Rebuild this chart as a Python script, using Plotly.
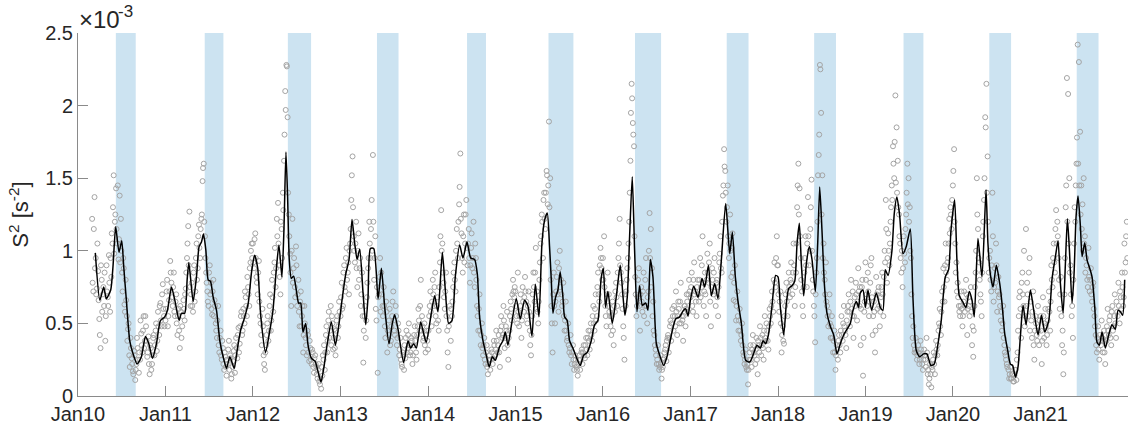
import numpy as np
import pandas as pd
import plotly.graph_objects as go

# ---------------- data (values in units of 1e-3 s^-2) ----------------
# smoothed curve: decimal-year positions and values
line_t = [
    2010.198, 2010.25, 2010.294, 2010.324, 2010.374, 2010.40, 2010.431, 2010.469, 2010.50, 2010.523,
    2010.553, 2010.592, 2010.63, 2010.676, 2010.725, 2010.771, 2010.81, 2010.851, 2010.897, 2010.943, 2010.992,
    2011.023, 2011.069, 2011.107, 2011.157, 2011.183, 2011.22, 2011.248, 2011.267, 2011.286, 2011.317,
    2011.355, 2011.385, 2011.412, 2011.435, 2011.462, 2011.489, 2011.515, 2011.546, 2011.584, 2011.622,
    2011.66, 2011.698, 2011.737, 2011.786, 2011.82, 2011.859, 2011.90, 2011.947, 2011.985,
    2012.02, 2012.055, 2012.09, 2012.145, 2012.19, 2012.229, 2012.267, 2012.297, 2012.331, 2012.354,
    2012.377, 2012.396, 2012.415, 2012.438, 2012.465, 2012.495, 2012.522, 2012.545, 2012.571, 2012.602,
    2012.629, 2012.667, 2012.709, 2012.739, 2012.777, 2012.808, 2012.846, 2012.895, 2012.941, 2012.983,
    2013.021, 2013.059, 2013.097, 2013.131, 2013.162, 2013.189, 2013.219, 2013.257, 2013.288, 2013.314,
    2013.341, 2013.379, 2013.429, 2013.467, 2013.505, 2013.554, 2013.592, 2013.619, 2013.657, 2013.722,
    2013.771, 2013.802, 2013.836, 2013.867, 2013.916, 2013.95, 2013.98,
    2014.038, 2014.076, 2014.114, 2014.164, 2014.198, 2014.236, 2014.274, 2014.312, 2014.362, 2014.40,
    2014.446, 2014.488, 2014.533, 2014.564, 2014.59, 2014.629, 2014.667, 2014.70, 2014.735, 2014.77,
    2014.819, 2014.857, 2014.884, 2014.914, 2014.952,
    2015.01, 2015.055, 2015.105, 2015.143, 2015.189, 2015.227, 2015.269, 2015.303, 2015.333, 2015.364,
    2015.39, 2015.41, 2015.429, 2015.459, 2015.486, 2015.512, 2015.543, 2015.562, 2015.592, 2015.619,
    2015.657, 2015.695, 2015.741, 2015.779, 2015.821, 2015.867, 2015.905, 2015.943, 2015.98,
    2016.005, 2016.03, 2016.057, 2016.107, 2016.152, 2016.198, 2016.229, 2016.251, 2016.278, 2016.305,
    2016.335, 2016.362, 2016.389, 2016.419, 2016.45, 2016.488, 2016.514, 2016.541, 2016.571, 2016.61,
    2016.648, 2016.693, 2016.731, 2016.781, 2016.83, 2016.876, 2016.914, 2016.945, 2016.971, 2016.998,
    2017.036, 2017.086, 2017.131, 2017.162, 2017.204, 2017.238, 2017.276, 2017.314, 2017.352, 2017.402,
    2017.448, 2017.478, 2017.512, 2017.543, 2017.581, 2017.63, 2017.676, 2017.714, 2017.76, 2017.798,
    2017.829, 2017.859, 2017.89, 2017.928, 2017.973,
    2018.0, 2018.027, 2018.065, 2018.096, 2018.122, 2018.16, 2018.191, 2018.218, 2018.244, 2018.267,
    2018.294, 2018.324, 2018.359, 2018.389, 2018.427, 2018.454, 2018.477, 2018.503, 2018.53, 2018.56,
    2018.598, 2018.637, 2018.675, 2018.713, 2018.751, 2018.789, 2018.827, 2018.858, 2018.896, 2018.922,
    2018.941, 2018.972,
    2019.0, 2019.029, 2019.071, 2019.124, 2019.17, 2019.2, 2019.227, 2019.258, 2019.303, 2019.33,
    2019.36, 2019.391, 2019.429, 2019.467, 2019.513, 2019.543, 2019.581, 2019.619, 2019.665, 2019.703,
    2019.749, 2019.787, 2019.825, 2019.867, 2019.913, 2019.951, 2019.978,
    2020.02, 2020.046, 2020.073, 2020.111, 2020.149, 2020.187, 2020.218, 2020.244, 2020.286, 2020.332,
    2020.378, 2020.40, 2020.427, 2020.458, 2020.496, 2020.534, 2020.56, 2020.591, 2020.625, 2020.656,
    2020.682, 2020.713, 2020.743, 2020.77, 2020.80, 2020.835, 2020.884, 2020.922, 2020.972,
    2021.01, 2021.048, 2021.094, 2021.132, 2021.17, 2021.20, 2021.227, 2021.258, 2021.284, 2021.307,
    2021.33, 2021.36, 2021.383, 2021.406, 2021.429, 2021.456, 2021.475, 2021.505, 2021.532, 2021.562,
    2021.589, 2021.62, 2021.646, 2021.673, 2021.703, 2021.741, 2021.779, 2021.817, 2021.855, 2021.886,
    2021.913, 2021.939, 2021.962,
]
line_v = [
    0.986, 0.66, 0.75, 0.67, 0.73, 0.89, 1.165, 0.99, 1.07, 0.89,
    0.66, 0.38, 0.29, 0.22, 0.27, 0.41, 0.36, 0.26, 0.36, 0.52, 0.545,
    0.59, 0.75, 0.66, 0.52, 0.57, 0.57, 0.80, 0.92, 0.82, 0.65,
    0.82, 1.03, 1.06, 1.115, 1.005, 0.80, 0.79, 0.68, 0.59, 0.38,
    0.27, 0.19, 0.27, 0.19, 0.315, 0.45, 0.53, 0.64, 0.855,
    0.97, 0.88, 0.55, 0.30, 0.44, 0.59, 0.87, 1.04, 0.82, 1.14,
    1.68, 1.37, 0.94, 0.81, 0.825, 0.73, 0.64, 0.64, 0.44, 0.50,
    0.35, 0.26, 0.24, 0.177, 0.097, 0.19, 0.35, 0.51, 0.35, 0.50,
    0.68, 0.84, 0.94, 1.216, 1.05, 0.94, 1.01, 0.71, 0.49, 0.68,
    1.016, 1.016, 0.67, 0.88, 0.61, 0.36, 0.50, 0.56, 0.46, 0.23,
    0.38, 0.33, 0.36, 0.33, 0.51, 0.43, 0.37,
    0.57, 0.69, 0.58, 0.99, 0.73, 0.50, 0.52, 0.82, 1.04, 0.95,
    1.06, 0.95, 0.94, 0.84, 0.545, 0.38, 0.28, 0.20, 0.27, 0.246,
    0.34, 0.38, 0.44, 0.35, 0.48,
    0.67, 0.53, 0.66, 0.62, 0.41, 0.77, 0.545, 1.05, 1.21, 1.26,
    1.03, 0.80, 0.57, 0.68, 0.73, 0.855, 0.68, 0.545, 0.52, 0.38,
    0.33, 0.27, 0.21, 0.28, 0.30, 0.38, 0.49, 0.52, 0.81,
    0.88, 0.61, 0.72, 0.50, 0.68, 0.90, 0.69, 0.556, 0.68, 1.10,
    1.51, 1.00, 0.58, 0.76, 0.625, 0.64, 0.59, 0.94, 0.82, 0.36,
    0.28, 0.21, 0.27, 0.42, 0.53, 0.545, 0.586, 0.60, 0.55, 0.66,
    0.756, 0.68, 0.81, 0.75, 0.90, 0.69, 0.775, 0.67, 0.936, 1.326,
    0.98, 1.13, 0.82, 0.65, 0.50, 0.246, 0.234, 0.28, 0.35, 0.33,
    0.38, 0.36, 0.42, 0.60, 0.83,
    0.82, 0.61, 0.42, 0.64, 0.74, 0.76, 0.79, 1.05, 1.19, 0.91,
    0.69, 0.91, 1.03, 0.94, 0.72, 1.05, 1.44, 1.14, 0.775, 0.57,
    0.48, 0.42, 0.29, 0.36, 0.42, 0.46, 0.50, 0.59, 0.65, 0.61,
    0.71, 0.73,
    0.61, 0.73, 0.59, 0.71, 0.61, 0.59, 0.87, 0.83, 1.00, 1.26,
    1.37, 1.245, 0.98, 1.03, 1.15, 0.68, 0.315, 0.27, 0.29, 0.29,
    0.21, 0.22, 0.34, 0.52, 0.82, 0.87, 1.14,
    1.35, 0.94, 0.69, 0.65, 0.61, 0.72, 0.66, 0.545, 1.085, 0.82,
    1.42, 1.05, 0.84, 0.75, 0.90, 0.775, 0.64, 0.43, 0.315, 0.22,
    0.21, 0.13, 0.20, 0.41, 0.625, 0.49, 0.73, 0.59, 0.42,
    0.556, 0.44, 0.52, 0.81, 0.96, 1.07, 0.775, 0.57, 0.91, 1.22,
    1.005, 0.64, 0.84, 1.234, 1.377, 1.165, 0.96, 1.055, 0.936, 0.88,
    0.82, 0.61, 0.37, 0.35, 0.44, 0.33, 0.42, 0.49, 0.46, 0.59,
    0.58, 0.556, 0.80,
]

# individual estimates, set A: one every 5 days from each start date
scatter_start = ["2010-03-01", "2011-01-01", "2012-01-01", "2013-01-01", "2014-01-01", "2015-01-01",
                 "2016-01-01", "2017-01-01", "2018-01-01", "2019-01-01", "2020-01-01", "2021-01-01"]
s2010 = [1.22, 0.72, 1.37, 0.95, 0.74, 0.86, 0.53, 0.33, 0.80, 0.70, 0.62, 0.38, 0.90, 0.68, 0.97, 0.58,
         0.82, 1.05, 1.52, 1.20, 1.43, 1.05, 0.94, 1.38, 1.22, 0.85, 0.95, 0.63, 0.80, 0.55, 0.46, 0.28,
         0.40, 0.26, 0.17, 0.31, 0.11, 0.22, 0.33, 0.16, 0.25, 0.43, 0.30, 0.55, 0.38, 0.48, 0.27, 0.41,
         0.15, 0.33, 0.22, 0.40, 0.28, 0.45, 0.31, 0.58, 0.42, 0.64, 0.48, 0.77, 0.55]
s2011 = [0.52, 0.72, 0.48, 0.66, 0.93, 0.78, 0.62, 0.85, 0.55, 0.70, 0.42, 0.60, 0.33, 0.58, 0.48, 0.66,
         0.52, 0.74, 0.95, 1.17, 1.27, 0.62, 0.78, 0.58, 0.90, 0.72, 1.05, 0.88, 1.18, 0.95, 1.22, 1.48,
         1.60, 1.10, 0.85, 0.72, 0.62, 0.90, 0.78, 0.56, 0.80, 0.66, 0.50, 0.40, 0.62, 0.30, 0.45, 0.25,
         0.33, 0.18, 0.27, 0.14, 0.22, 0.38, 0.28, 0.12, 0.20, 0.31, 0.16, 0.40, 0.26, 0.47, 0.36, 0.55,
         0.42, 0.60, 0.50, 0.68, 0.55, 0.75, 0.62, 0.92, 1.05]
s2012 = [1.05, 0.88, 1.12, 0.82, 0.70, 0.93, 0.55, 0.42, 0.60, 0.28, 0.18, 0.35, 0.50, 0.38, 0.62, 0.45,
         0.80, 0.58, 0.92, 0.75, 1.22, 1.33, 0.90, 0.70, 1.15, 1.40, 1.62, 2.10, 2.28, 1.92, 1.25, 0.98,
         0.62, 1.22, 0.88, 0.75, 1.03, 0.62, 0.80, 0.48, 0.72, 0.55, 0.30, 0.62, 0.40, 0.28, 0.42, 0.24,
         0.33, 0.22, 0.30, 0.16, 0.28, 0.20, 0.12, 0.22, 0.08, 0.05, 0.14, 0.25, 0.18, 0.42, 0.30, 0.52,
         0.40, 0.62, 0.55, 0.32, 0.46, 0.28, 0.52, 0.40, 0.65]
s2013 = [0.55, 0.78, 0.62, 0.90, 0.72, 1.02, 0.85, 0.70, 1.05, 1.35, 1.65, 1.10, 0.92, 1.20, 0.75, 1.12,
         0.88, 0.62, 0.85, 0.23, 0.55, 0.40, 0.68, 0.88, 1.20, 0.95, 1.35, 1.66, 0.80, 1.10, 0.52, 0.16,
         0.70, 0.95, 0.85, 0.62, 0.75, 0.48, 0.65, 0.30, 0.42, 0.60, 0.38, 0.55, 0.72, 0.45, 0.62, 0.35,
         0.50, 0.28, 0.40, 0.22, 0.30, 0.18, 0.26, 0.45, 0.33, 0.50, 0.28, 0.40, 0.22, 0.35, 0.48, 0.30,
         0.42, 0.60, 0.45, 0.80, 0.55, 0.38, 0.50, 0.30, 0.45]
s2014 = [0.32, 0.55, 0.72, 0.48, 0.80, 0.62, 0.85, 0.50, 0.68, 0.45, 0.92, 1.28, 1.05, 0.78, 0.60, 0.85,
         0.45, 0.20, 0.62, 0.38, 0.55, 0.75, 0.92, 0.72, 1.15, 0.95, 1.32, 1.67, 1.12, 0.85, 1.25, 1.05,
         1.35, 0.90, 1.15, 0.78, 1.02, 0.88, 1.20, 0.75, 0.95, 0.62, 0.45, 0.70, 0.35, 0.50, 0.28, 0.40,
         0.22, 0.35, 0.15, 0.25, 0.18, 0.32, 0.22, 0.38, 0.28, 0.45, 0.30, 0.42, 0.20, 0.55, 0.40, 0.62,
         0.33, 0.48, 0.58, 0.25, 0.45, 0.65, 0.52, 0.80, 0.68]
s2015 = [0.72, 0.55, 0.85, 0.48, 0.62, 0.40, 0.75, 0.58, 0.82, 0.65, 0.50, 0.72, 0.45, 0.28, 0.55, 0.85,
         0.65, 1.02, 0.72, 0.50, 0.80, 1.05, 1.25, 0.95, 1.40, 1.15, 1.55, 1.32, 1.89, 1.50, 0.62, 0.30,
         0.85, 0.50, 0.72, 0.92, 0.58, 1.00, 0.80, 0.62, 0.78, 0.45, 0.65, 0.38, 0.50, 0.30, 0.42, 0.22,
         0.35, 0.18, 0.28, 0.20, 0.14, 0.25, 0.18, 0.30, 0.22, 0.35, 0.26, 0.40, 0.28, 0.45, 0.32, 0.50,
         0.38, 0.62, 0.45, 0.70, 0.55, 0.85, 0.65, 1.02, 0.88]
s2016 = [0.95, 1.10, 0.62, 0.48, 0.85, 0.70, 0.55, 0.42, 0.65, 0.35, 0.58, 0.78, 0.62, 0.95, 1.22, 0.85,
         0.70, 0.48, 0.25, 0.62, 0.80, 0.95, 1.20, 1.62, 2.15, 1.88, 1.72, 0.82, 0.55, 0.68, 0.88, 0.45,
         0.75, 0.58, 0.85, 0.62, 0.95, 0.50, 0.72, 1.26, 1.15, 0.88, 0.65, 0.42, 0.32, 0.22, 0.35, 0.18,
         0.28, 0.12, 0.20, 0.26, 0.32, 0.24, 0.40, 0.30, 0.48, 0.38, 0.60, 0.45, 0.55, 0.72, 0.42, 0.65,
         0.50, 0.78, 0.55, 0.38, 0.62, 0.48, 0.70, 0.58, 0.80]
s2017 = [0.68, 0.85, 0.58, 0.92, 0.72, 0.55, 0.80, 0.65, 0.95, 0.75, 1.10, 0.62, 0.85, 0.55, 0.98, 0.78,
         1.05, 0.48, 0.88, 0.70, 0.95, 0.62, 0.80, 0.55, 0.92, 1.10, 0.85, 1.38, 1.70, 1.55, 1.20, 1.45,
         0.95, 1.25, 0.82, 1.12, 0.66, 0.90, 0.52, 0.72, 0.45, 0.60, 0.38, 0.50, 0.30, 0.22, 0.32, 0.18,
         0.08, 0.25, 0.35, 0.20, 0.42, 0.30, 0.22, 0.40, 0.15, 0.35, 0.48, 0.28, 0.42, 0.25, 0.55, 0.38,
         0.45, 0.32, 0.60, 0.50, 0.72, 0.58, 0.92, 0.75, 1.10]
s2018 = [0.90, 0.58, 0.72, 0.30, 0.48, 0.36, 0.62, 0.78, 0.55, 0.85, 0.68, 0.92, 0.70, 1.05, 0.62, 0.85,
         1.30, 1.60, 1.43, 0.95, 0.72, 0.55, 0.85, 1.10, 0.75, 1.37, 0.90, 1.15, 1.49, 0.80, 0.62, 0.37,
         0.85, 1.20, 1.66, 2.28, 1.95, 1.52, 1.05, 0.80, 0.92, 0.62, 0.48, 0.70, 0.40, 0.55, 0.30, 0.45,
         0.18, 0.35, 0.25, 0.42, 0.30, 0.55, 0.38, 0.62, 0.45, 0.33, 0.58, 0.70, 0.48, 0.80, 0.55, 0.40,
         0.68, 0.78, 0.52, 0.88, 0.62, 0.35, 0.75, 0.14, 0.58]
s2019 = [0.92, 0.70, 0.85, 0.55, 0.78, 0.95, 0.42, 0.65, 0.30, 0.82, 0.60, 0.75, 0.48, 0.68, 0.85, 0.55,
         1.00, 1.35, 0.78, 1.12, 0.90, 1.20, 1.45, 1.72, 1.50, 2.07, 1.85, 1.62, 1.25, 1.05, 0.85, 0.75,
         1.10, 0.92, 1.25, 1.60, 1.50, 1.30, 0.95, 0.55, 0.48, 0.30, 0.40, 0.25, 0.35, 0.22, 0.38, 0.28,
         0.18, 0.32, 0.25, 0.40, 0.15, 0.08, 0.22, 0.06, 0.18, 0.30, 0.15, 0.38, 0.28, 0.45, 0.60, 0.42,
         0.72, 0.88, 0.65, 1.05, 0.80, 0.95, 1.22, 1.30, 1.15]
s2020 = [1.45, 1.70, 1.05, 0.92, 0.78, 0.62, 0.55, 0.72, 0.48, 0.65, 0.58, 0.80, 0.42, 0.68, 0.55, 0.75,
         0.35, 0.27, 0.62, 0.85, 1.50, 1.15, 0.92, 0.70, 0.55, 1.10, 1.35, 1.92, 2.15, 1.65, 0.85, 1.00,
         0.72, 1.40, 0.65, 0.88, 1.05, 0.58, 0.82, 0.70, 0.52, 0.45, 0.62, 0.35, 0.28, 0.22, 0.32, 0.12,
         0.20, 0.12, 0.15, 0.10, 0.18, 0.11, 0.30, 0.55, 0.72, 0.40, 0.85, 0.62, 0.48, 1.15, 0.78, 0.55,
         0.95, 0.65, 0.40, 0.72, 0.25, 0.55, 0.42, 0.62, 0.35]
s2021 = [0.55, 0.22, 0.68, 0.40, 0.60, 0.35, 0.52, 0.72, 0.45, 0.90, 0.75, 1.05, 0.85, 1.28, 1.20, 0.95,
         0.60, 0.82, 0.35, 0.15, 0.70, 1.30, 2.19, 2.08, 1.50, 0.90, 0.55, 0.40, 1.05, 1.20, 1.60, 2.42,
         2.30, 1.82, 1.45, 1.32, 1.50, 1.10, 0.95, 0.80, 1.02, 0.72, 0.88, 0.65, 0.78, 0.55, 0.42, 0.30,
         0.48, 0.25, 0.38, 0.52, 0.30, 0.45, 0.22, 0.38, 0.60, 0.42, 0.55, 0.35, 0.62, 0.48, 0.70, 0.40,
         0.58, 0.78, 0.50, 0.68, 0.85, 0.62, 1.05, 0.92, 1.20]

# individual estimates, set B: one every 5 days, starting 2 days after set A
b2010 = [0.78, 1.15, 0.88, 0.70, 1.05, 0.66, 0.42, 0.90, 0.58, 0.75, 0.85, 0.55, 0.72, 0.62, 0.78, 0.95,
         1.12, 1.30, 0.98, 1.25, 1.15, 1.45, 1.08, 0.92, 1.00, 0.72, 0.88, 0.58, 0.66, 0.38, 0.50, 0.20,
         0.33, 0.22, 0.15, 0.28, 0.18, 0.40, 0.25, 0.30, 0.52, 0.35, 0.45, 0.33, 0.55, 0.38, 0.30, 0.22,
         0.35, 0.18, 0.28, 0.42, 0.35, 0.50, 0.38, 0.48, 0.62, 0.52, 0.70, 0.60, 0.48]
b2011 = [0.60, 0.80, 0.55, 0.72, 0.85, 0.68, 0.75, 0.58, 0.65, 0.50, 0.55, 0.45, 0.62, 0.40, 0.55, 0.60,
         0.70, 0.85, 1.05, 0.90, 0.75, 0.70, 0.62, 0.85, 0.65, 0.95, 0.80, 1.10, 1.02, 1.15, 1.25, 1.57,
         1.20, 0.95, 0.78, 0.65, 0.85, 0.70, 0.60, 0.72, 0.55, 0.62, 0.45, 0.52, 0.35, 0.40, 0.28, 0.38,
         0.22, 0.30, 0.20, 0.25, 0.32, 0.18, 0.26, 0.15, 0.24, 0.35, 0.28, 0.33, 0.42, 0.30, 0.48, 0.58,
         0.45, 0.55, 0.72, 0.62, 0.82, 0.70, 0.88, 1.00, 0.95]
b2012 = [0.92, 1.08, 0.95, 0.78, 0.85, 0.65, 0.50, 0.35, 0.48, 0.22, 0.30, 0.42, 0.55, 0.45, 0.70, 0.52,
         0.68, 0.85, 1.02, 0.88, 1.10, 1.05, 0.82, 1.20, 0.95, 1.28, 1.80, 1.97, 2.27, 1.40, 1.10, 0.85,
         1.00, 0.78, 0.95, 0.68, 0.90, 0.70, 0.58, 0.65, 0.48, 0.62, 0.42, 0.50, 0.35, 0.45, 0.30, 0.38,
         0.25, 0.32, 0.20, 0.26, 0.22, 0.15, 0.18, 0.10, 0.12, 0.20, 0.28, 0.35, 0.30, 0.48, 0.38, 0.58,
         0.45, 0.35, 0.50, 0.40, 0.33, 0.45, 0.55, 0.48, 0.58]
b2013 = [0.68, 0.60, 0.85, 0.75, 0.95, 0.80, 0.92, 1.00, 1.15, 1.52, 1.30, 1.00, 1.05, 0.88, 1.00, 0.80,
         0.95, 0.70, 0.55, 0.45, 0.62, 0.52, 0.78, 0.95, 1.05, 1.15, 1.00, 1.20, 0.95, 0.60, 0.75, 0.68,
         0.82, 0.58, 0.70, 0.55, 0.62, 0.40, 0.58, 0.45, 0.52, 0.35, 0.48, 0.65, 0.52, 0.42, 0.55, 0.40,
         0.45, 0.32, 0.25, 0.20, 0.28, 0.35, 0.40, 0.30, 0.42, 0.35, 0.30, 0.38, 0.28, 0.42, 0.38, 0.25,
         0.48, 0.52, 0.62, 0.45, 0.48, 0.40, 0.35, 0.42, 0.38]
b2014 = [0.45, 0.62, 0.58, 0.65, 0.70, 0.75, 0.55, 0.62, 0.52, 0.75, 1.10, 1.00, 0.85, 0.68, 0.72, 0.55,
         0.30, 0.48, 0.52, 0.60, 0.65, 0.85, 0.80, 1.00, 1.05, 1.20, 1.44, 1.22, 0.95, 1.10, 0.92, 1.25,
         1.02, 1.05, 0.95, 0.90, 1.12, 0.95, 0.85, 1.05, 0.80, 0.55, 0.60, 0.45, 0.42, 0.33, 0.35, 0.25,
         0.30, 0.20, 0.22, 0.28, 0.25, 0.30, 0.26, 0.35, 0.32, 0.38, 0.35, 0.30, 0.45, 0.48, 0.42, 0.52,
         0.40, 0.45, 0.35, 0.40, 0.55, 0.60, 0.70, 0.72, 0.75]
b2015 = [0.62, 0.50, 0.58, 0.55, 0.70, 0.52, 0.65, 0.68, 0.72, 0.55, 0.62, 0.58, 0.35, 0.42, 0.70, 0.75,
         0.85, 0.60, 0.58, 0.65, 0.92, 1.10, 1.20, 1.35, 1.22, 1.40, 1.52, 1.45, 1.30, 0.80, 0.50, 0.70,
         0.62, 0.65, 0.82, 0.70, 0.88, 0.75, 0.70, 0.65, 0.55, 0.52, 0.45, 0.40, 0.35, 0.33, 0.28, 0.30,
         0.25, 0.22, 0.25, 0.18, 0.22, 0.28, 0.25, 0.32, 0.30, 0.28, 0.35, 0.32, 0.40, 0.38, 0.45, 0.42,
         0.55, 0.50, 0.60, 0.52, 0.75, 0.70, 0.90, 0.95, 0.80]
b2016 = [0.80, 0.75, 0.55, 0.70, 0.62, 0.58, 0.48, 0.55, 0.45, 0.62, 0.72, 0.68, 0.85, 1.05, 0.90, 0.78,
         0.60, 0.40, 0.70, 0.72, 0.88, 1.05, 1.40, 1.95, 2.05, 1.80, 1.10, 0.70, 0.62, 0.80, 0.62, 0.70,
         0.65, 0.72, 0.55, 0.80, 0.62, 0.68, 1.00, 0.95, 0.75, 0.55, 0.45, 0.35, 0.28, 0.25, 0.22, 0.20,
         0.22, 0.18, 0.25, 0.30, 0.35, 0.38, 0.42, 0.40, 0.52, 0.50, 0.55, 0.62, 0.48, 0.58, 0.55, 0.60,
         0.65, 0.50, 0.52, 0.55, 0.62, 0.60, 0.65, 0.70, 0.72]
b2017 = [0.75, 0.62, 0.80, 0.70, 0.65, 0.75, 0.70, 0.80, 0.68, 0.90, 0.78, 0.72, 0.70, 0.80, 0.85, 0.92,
         0.65, 0.75, 0.80, 0.85, 0.72, 0.78, 0.68, 0.75, 0.98, 0.88, 1.20, 1.45, 1.58, 1.40, 1.30, 1.10,
         1.05, 1.00, 1.02, 0.85, 0.78, 0.65, 0.62, 0.55, 0.52, 0.45, 0.42, 0.35, 0.28, 0.25, 0.20, 0.22,
         0.18, 0.30, 0.25, 0.32, 0.35, 0.28, 0.32, 0.25, 0.38, 0.30, 0.40, 0.35, 0.33, 0.45, 0.40, 0.50,
         0.38, 0.48, 0.55, 0.62, 0.65, 0.80, 0.78, 0.95, 0.90]
b2018 = [0.70, 0.65, 0.50, 0.42, 0.38, 0.55, 0.70, 0.65, 0.72, 0.75, 0.80, 0.78, 0.85, 0.90, 0.75, 1.05,
         1.45, 1.25, 1.10, 0.80, 0.62, 0.75, 0.95, 0.90, 1.05, 1.10, 1.00, 1.30, 1.00, 0.72, 0.55, 0.70,
         0.95, 1.52, 1.80, 2.25, 1.25, 0.95, 0.85, 0.70, 0.65, 0.55, 0.58, 0.50, 0.48, 0.40, 0.38, 0.30,
         0.28, 0.32, 0.38, 0.35, 0.45, 0.42, 0.50, 0.48, 0.42, 0.52, 0.62, 0.58, 0.65, 0.60, 0.72, 0.55,
         0.62, 0.70, 0.65, 0.72, 0.75, 0.60, 0.80, 0.40, 0.65]
b2019 = [0.80, 0.62, 0.72, 0.65, 0.90, 0.68, 0.55, 0.58, 0.45, 0.70, 0.72, 0.62, 0.58, 0.75, 0.70, 0.82,
         0.92, 1.15, 0.95, 1.00, 1.05, 1.30, 1.35, 1.60, 1.75, 1.47, 1.40, 1.30, 1.10, 0.95, 1.00, 0.88,
         0.98, 1.15, 1.40, 1.32, 1.20, 1.00, 0.70, 0.40, 0.35, 0.32, 0.30, 0.28, 0.30, 0.25, 0.32, 0.22,
         0.25, 0.28, 0.20, 0.30, 0.18, 0.12, 0.15, 0.20, 0.25, 0.22, 0.28, 0.32, 0.35, 0.50, 0.48, 0.58,
         0.65, 0.75, 0.90, 0.85, 0.92, 1.05, 1.12, 1.25, 1.35]
b2020 = [1.55, 1.20, 0.85, 0.72, 0.68, 0.58, 0.62, 0.60, 0.55, 0.72, 0.62, 0.70, 0.60, 0.62, 0.65, 0.58,
         0.48, 0.45, 0.75, 1.00, 1.25, 0.95, 0.80, 0.65, 0.85, 1.20, 1.50, 1.85, 1.40, 1.20, 0.95, 0.80,
         0.90, 1.10, 0.75, 0.78, 0.90, 0.72, 0.68, 0.62, 0.58, 0.50, 0.40, 0.30, 0.25, 0.20, 0.18, 0.15,
         0.12, 0.15, 0.10, 0.14, 0.18, 0.25, 0.45, 0.68, 0.60, 0.78, 0.70, 1.00, 0.55, 0.62, 0.70, 0.85,
         0.45, 0.52, 0.58, 0.35, 0.45, 0.50, 0.38, 0.45, 0.52]
b2021 = [0.45, 0.38, 0.55, 0.50, 0.48, 0.42, 0.60, 0.58, 0.65, 0.80, 0.95, 0.92, 1.15, 1.05, 1.10, 0.80,
         0.70, 0.55, 0.45, 0.30, 0.95, 1.45, 1.20, 1.05, 0.85, 0.70, 0.62, 0.80, 1.30, 1.45, 1.78, 1.60,
         1.45, 1.25, 1.15, 1.00, 1.05, 0.85, 0.90, 0.75, 0.82, 0.80, 0.70, 0.75, 0.60, 0.48, 0.35, 0.40,
         0.32, 0.42, 0.35, 0.40, 0.38, 0.30, 0.42, 0.48, 0.45, 0.52, 0.40, 0.58, 0.45, 0.55, 0.50, 0.65,
         0.55, 0.62, 0.72, 0.60, 0.75, 0.68, 0.85, 1.10, 0.95]

set_a = [s2010, s2011, s2012, s2013, s2014, s2015, s2016, s2017, s2018, s2019, s2020, s2021]
set_b = [b2010, b2011, b2012, b2013, b2014, b2015, b2016, b2017, b2018, b2019, b2020, b2021]

# shaded periods
band_start = ["2010-06-08", "2011-06-14", "2012-05-26", "2013-06-02", "2014-06-13", "2015-05-19",
              "2016-05-14", "2017-06-01", "2018-06-01", "2019-06-09", "2020-06-01", "2021-06-01"]
band_end = ["2010-08-30", "2011-08-31", "2012-08-31", "2013-08-31", "2014-08-31", "2015-08-31",
            "2016-08-31", "2017-08-31", "2018-08-31", "2019-08-31", "2020-08-31", "2021-08-31"]

tick_years = list(range(2010, 2022))
tick_text = ["Jan%02d" % (y % 100) for y in tick_years]
ytick_vals = [0, 0.5, 1, 1.5, 2, 2.5]
ytick_text = ["0", "0.5", "1", "1.5", "2", "2.5"]


def dec_year_to_date(t):
    y = int(np.floor(t))
    start = pd.Timestamp(year=y, month=1, day=1)
    end = pd.Timestamp(year=y + 1, month=1, day=1)
    return start + (end - start) * (t - y)


line_dates = [dec_year_to_date(t) for t in line_t]
sc_x, sc_y = [], []
for st, va, vb in zip(scatter_start, set_a, set_b):
    da = pd.date_range(st, periods=len(va), freq="5D")
    db = pd.date_range(pd.Timestamp(st) + pd.Timedelta(days=2), periods=len(vb), freq="5D")
    sc_x.extend(da)
    sc_y.extend(va)
    sc_x.extend(db)
    sc_y.extend(vb)

FONT = "Liberation Sans, Arial, Helvetica, sans-serif"
AX = "#8a8a8a"
TXT = "#262626"

fig = go.Figure()
fig.add_trace(go.Scatter(
    x=sc_x, y=sc_y, mode="markers",
    marker=dict(symbol="circle-open", size=5, color="#a4a4a4", line=dict(width=1, color="#a4a4a4")),
    showlegend=False, hoverinfo="skip"))
fig.add_trace(go.Scatter(
    x=line_dates, y=line_v, mode="lines",
    line=dict(color="black", width=1.5, shape="spline", smoothing=0.6),
    showlegend=False))

for s, e in zip(band_start, band_end):
    fig.add_shape(type="rect", xref="x", yref="paper", x0=s, x1=e, y0=0, y1=1,
                  fillcolor="#cce3f1", line=dict(width=0), layer="below")

fig.update_layout(
    width=1130, height=427,
    margin=dict(l=78, r=2, t=33, b=31),
    paper_bgcolor="white", plot_bgcolor="white",
    font=dict(family=FONT, color=TXT, size=20),
    xaxis=dict(type="date", range=["2010-01-01", "2022-01-01"],
               tickvals=[f"{y}-01-01" for y in tick_years], ticktext=tick_text,
               ticks="inside", ticklen=10, tickwidth=1, tickcolor=AX,
               showline=True, linecolor=AX, linewidth=1, mirror=False,
               showgrid=False, zeroline=False, tickfont=dict(size=20, color=TXT)),
    yaxis=dict(range=[0, 2.5], tickvals=ytick_vals, ticktext=ytick_text,
               ticks="inside", ticklen=10, tickwidth=1, tickcolor=AX,
               showline=True, linecolor=AX, linewidth=1, mirror=False,
               showgrid=False, zeroline=False, tickfont=dict(size=20, color=TXT),
               title=dict(text="S<sup>2</sup> [s<sup>-2</sup>]", font=dict(size=22, color=TXT), standoff=10)),
    annotations=[
        dict(text="\u00d710", xref="paper", yref="paper", x=0, y=1, xanchor="left", yanchor="bottom",
             xshift=0, yshift=-1, showarrow=False, borderpad=0, font=dict(size=24, color=TXT, family=FONT)),
        dict(text="-3", xref="paper", yref="paper", x=0, y=1, xanchor="left", yanchor="bottom",
             xshift=39, yshift=11, showarrow=False, borderpad=0, font=dict(size=17, color=TXT, family=FONT)),
    ],
)

fig.write_html("out.html")
